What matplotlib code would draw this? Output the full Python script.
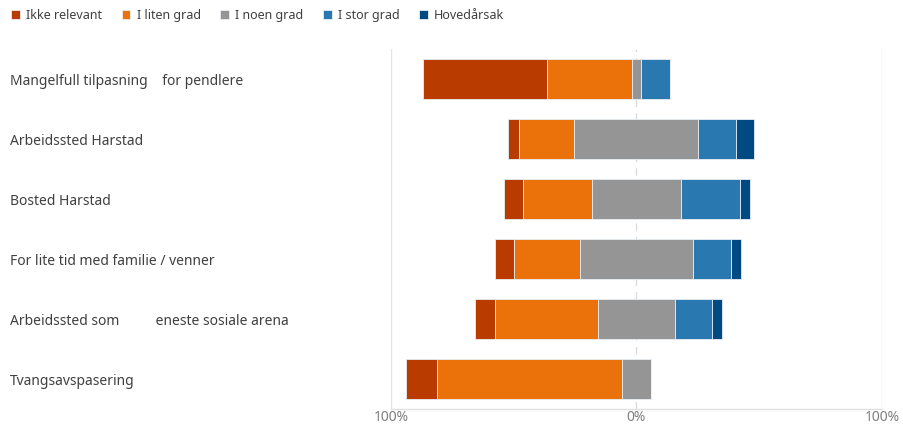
import numpy as np
import matplotlib.pyplot as plt
import matplotlib.transforms as mtransforms

categories = ["Mangelfull tilpasning    for pendlere",
              "Arbeidssted Harstad",
              "Bosted Harstad",
              "For lite tid med familie / venner",
              "Arbeidssted som          eneste sosiale arena",
              "Tvangsavspasering"]

series_names = ["Ikke relevant", "I liten grad", "I noen grad", "I stor grad", "Hovedårsak"]
ikke_relevant = [50.6, 4.1, 8.0, 7.6, 8.2, 12.8]
liten_grad = [34.3, 22.8, 27.9, 26.8, 41.8, 75.2]
noen_grad = [4.0, 50.5, 36.3, 46.3, 31.5, 12.0]
stor_grad = [11.6, 15.2, 24.0, 15.3, 15.2, 0.0]
hovedarsak = [0.0, 7.6, 3.9, 4.0, 4.0, 0.0]

colors = ["#B93B00", "#EB710A", "#959595", "#2A78B0", "#004A84"]

plt.rcParams['font.family'] = ['Noto Sans', 'DejaVu Sans']

fig = plt.figure(figsize=(9.04, 4.26), dpi=100)
ax = fig.add_axes([0.4325, 0.04, 0.5431, 0.845])

values = np.array([ikke_relevant, liten_grad, noen_grad, stor_grad, hovedarsak])
y = np.arange(len(categories))
# diverging: middle category centred on zero
start = -(values[0] + values[1] + values[2] / 2)
for name, vals, c in zip(series_names, values, colors):
    ax.barh(y, vals, left=start, height=0.66, color=c, label=name,
            edgecolor='#e8eef4', linewidth=0.6)
    start = start + vals

ax.set_xlim(-100, 100)
ax.set_ylim(len(categories) - 0.5, -0.5)
ax.axvline(0, color='#d9d9d9', linestyle=(0, (6, 5)), linewidth=0.9, zorder=0)
for gx in (-100, 100):
    ax.axvline(gx, color='#e3e3e3', linewidth=1, zorder=0)

for s in ax.spines.values():
    s.set_visible(False)
ax.axhline(len(categories) - 0.5, color='#e0e0e0', linewidth=1, zorder=0, clip_on=False)

ax.set_xticks([-100, 0, 100])
ax.set_xticklabels(["100%", "0%", "100%"], color='#7f7f7f', fontsize=10)
ax.tick_params(axis='x', length=0, pad=1)
ax.set_yticks([])

trans = mtransforms.blended_transform_factory(fig.transFigure, ax.transData)
for yi, cat in zip(y, categories):
    ax.text(10 / 904, yi + 0.04, cat, transform=trans, ha='left', va='center',
            fontsize=10, color='#404040')

fig.legend(loc='upper left', bbox_to_anchor=(0.0, 1.005), ncol=5, frameon=False,
           handlelength=0.7, handleheight=0.7, handletextpad=0.5,
           columnspacing=1.55, fontsize=9, labelcolor='#404040')

fig.savefig("out.png", dpi=100)
